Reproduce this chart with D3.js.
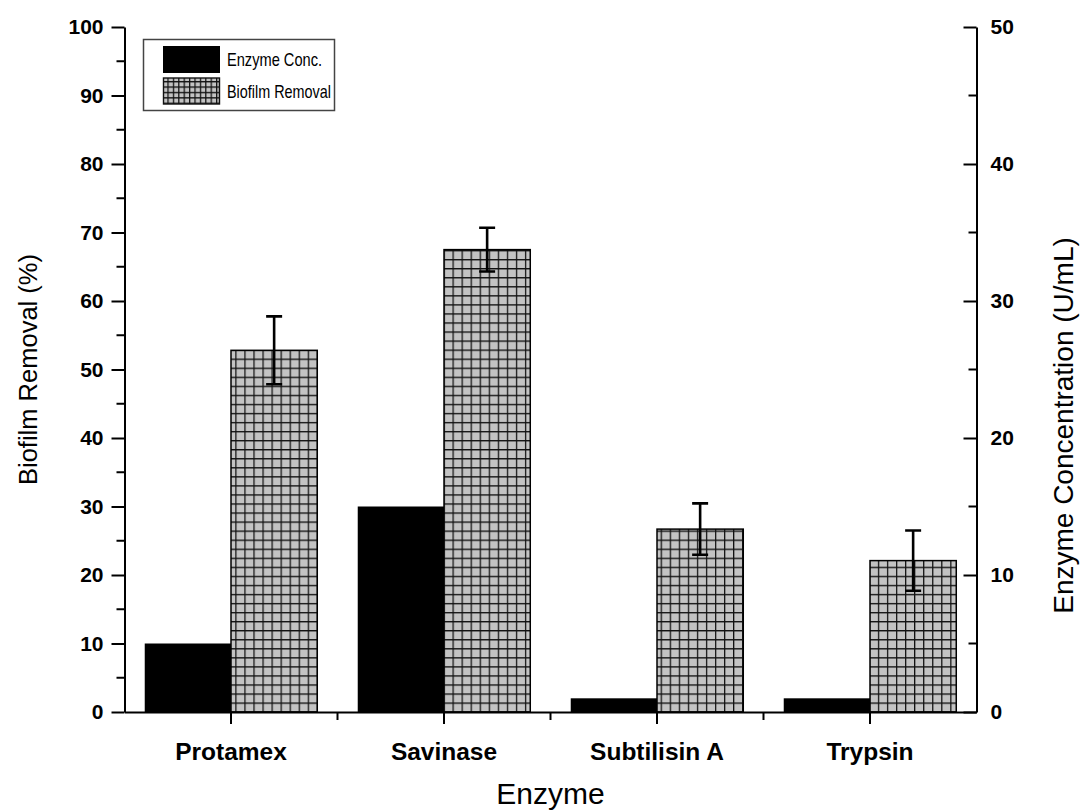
<!DOCTYPE html>
<html><head><meta charset="utf-8">
<script src="https://cdn.jsdelivr.net/npm/d3@7"></script>
<style>body{margin:0;background:#fff}svg{display:block}text{font-family:Arial,"Liberation Sans",sans-serif}</style>
</head><body><svg id="c" width="1085" height="812"></svg>
<script>
const categories = ["Protamex", "Savinase", "Subtilisin A", "Trypsin"];
const enzymeConc = [5, 15, 1, 1];            // U/mL (right axis)
const biofilmRemoval = [52.8, 67.5, 26.7, 22.1]; // % (left axis)
const biofilmErr = [4.95, 3.2, 3.75, 4.4];
const leftTicks = [0,10,20,30,40,50,60,70,80,90,100];
const rightTicks = [0,10,20,30,40,50];
const legendLabels = ["Enzyme Conc.", "Biofilm Removal"];

const svg = d3.select("#c");
const L = 124.5, R = 976.5, T = 27, B = 712;
const x = d3.scaleBand().domain(categories).range([L, R]).padding(0);
const yL = d3.scaleLinear().domain([0, 100]).range([B, T]);
const yR = d3.scaleLinear().domain([0, 50]).range([B, T]);
const bw = x.bandwidth() * 0.405;

const defs = svg.append("defs");
function grid(id, s) {
  const p = defs.append("pattern").attr("id", id).attr("patternUnits", "userSpaceOnUse")
    .attr("width", s).attr("height", s).attr("x", 0).attr("y", 0);
  p.append("rect").attr("width", s).attr("height", s).attr("fill", "#c3c3c3");
  p.append("path").attr("d", `M0,0.5H${s}M0.5,0V${s}`).attr("stroke", "#111").attr("stroke-width", 1.5);
  return p;
}
const pg = grid("hatch", 9.05);
pg.attr("y", B % 9.05 - 0.5);
grid("hatchL", 5.4);

// black bars
svg.append("g").selectAll("rect").data(categories).join("rect")
  .attr("x", d => x(d) + x.bandwidth()/2 - bw)
  .attr("y", (d,i) => yR(enzymeConc[i]))
  .attr("width", bw)
  .attr("height", (d,i) => B - yR(enzymeConc[i]))
  .attr("fill", "#000");

// hatched bars
svg.append("g").selectAll("rect").data(categories).join("rect")
  .attr("x", d => x(d) + x.bandwidth()/2)
  .attr("y", (d,i) => yL(biofilmRemoval[i]))
  .attr("width", bw)
  .attr("height", (d,i) => B - yL(biofilmRemoval[i]))
  .attr("fill", "url(#hatch)")
  .attr("stroke", "#000").attr("stroke-width", 1.5);

// error bars
const eg = svg.append("g").attr("stroke", "#000").attr("stroke-width", 2.6).attr("fill", "none");
categories.forEach((c, i) => {
  const cx = x(c) + x.bandwidth()/2 + bw/2;
  const t = yL(biofilmRemoval[i] + biofilmErr[i]), b = yL(biofilmRemoval[i] - biofilmErr[i]);
  eg.append("path").attr("d", `M${cx},${t}V${b}M${cx-8},${t}H${cx+8}M${cx-8},${b}H${cx+8}`);
});

// axes
const lw = 2;
const lAx = d3.axisLeft(yL).tickValues(leftTicks).tickSize(13).tickSizeOuter(0).tickPadding(8);
const gl = svg.append("g").attr("transform", `translate(${L},0)`).call(lAx);
const minorL = d3.range(5, 100, 10);
svg.append("g").selectAll("line").data(minorL).join("line")
  .attr("x1", L - 8).attr("x2", L).attr("y1", d => yL(d)).attr("y2", d => yL(d))
  .attr("stroke", "#000").attr("stroke-width", lw);
const rAx = d3.axisRight(yR).tickValues(rightTicks).tickSize(-13).tickSizeOuter(0).tickPadding(27);
const gr = svg.append("g").attr("transform", `translate(${R},0)`).call(rAx);
const minorR = d3.range(5, 50, 10);
svg.append("g").selectAll("line").data(minorR).join("line")
  .attr("x1", R - 8).attr("x2", R).attr("y1", d => yR(d)).attr("y2", d => yR(d))
  .attr("stroke", "#000").attr("stroke-width", lw);
const bAx = d3.axisBottom(x).tickSize(12).tickSizeOuter(0).tickPadding(12);
const gb = svg.append("g").attr("transform", `translate(0,${B})`).call(bAx);
svg.append("g").selectAll("line").data(categories.slice(1)).join("line")
  .attr("x1", d => x(d)).attr("x2", d => x(d)).attr("y1", B).attr("y2", B + 8)
  .attr("stroke", "#000").attr("stroke-width", lw);

[gl, gr, gb].forEach(g => {
  g.selectAll("path.domain").attr("stroke", "#000").attr("stroke-width", lw);
  g.selectAll(".tick line").attr("stroke", "#000").attr("stroke-width", lw);
  g.selectAll(".tick text").attr("fill", "#000").attr("font-size", 21).attr("font-weight", "bold")
    .attr("font-family", "Arial, 'Liberation Sans', sans-serif");
});
gr.selectAll(".tick text").attr("x", 14);
gb.selectAll(".tick text").attr("font-size", 24.5).attr("y", 48).attr("dy", 0);

// axis titles
svg.append("text").attr("transform", `translate(37,${(T+B)/2 + 0}) rotate(-90)`)
  .attr("text-anchor", "middle").attr("font-size", 25.5).text("Biofilm Removal (%)");
svg.append("text").attr("transform", `translate(1073,${(T+B)/2 + 56}) rotate(-90)`)
  .attr("text-anchor", "middle").attr("font-size", 28).text("Enzyme Concentration (U/mL)");
svg.append("text").attr("x", (L+R)/2).attr("y", 804)
  .attr("text-anchor", "middle").attr("font-size", 30).text("Enzyme");

// legend
const lg = svg.append("g");
lg.append("rect").attr("x", 143.5).attr("y", 39.5).attr("width", 191).attr("height", 71)
  .attr("fill", "#fff").attr("stroke", "#444").attr("stroke-width", 1.5);
lg.append("rect").attr("x", 163).attr("y", 46).attr("width", 57).attr("height", 27).attr("fill", "#000");
lg.append("rect").attr("x", 163.5).attr("y", 78).attr("width", 56).attr("height", 26)
  .attr("fill", "url(#hatchL)").attr("stroke", "#111").attr("stroke-width", 1.4);
const legendLen = [95, 104];
lg.selectAll("text.lt").data(legendLabels).join("text").attr("class", "lt")
  .attr("x", 227).attr("y", (d,i) => 66 + i*32).attr("font-size", 18.5)
  .attr("textLength", (d,i) => legendLen[i]).attr("lengthAdjust", "spacingAndGlyphs")
  .text(d => d);
</script></body></html>
